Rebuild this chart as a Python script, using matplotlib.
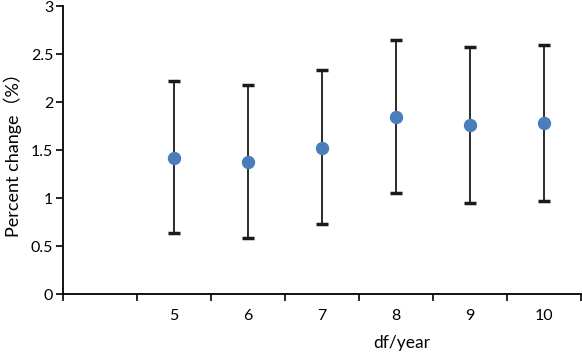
import matplotlib
matplotlib.use("Agg")
import matplotlib.pyplot as plt
import numpy as np

categories = ["", "5", "6", "7", "8", "9", "10"]
means = [np.nan, 1.42, 1.38, 1.52, 1.85, 1.76, 1.78]
upper = [np.nan, 2.22, 2.18, 2.33, 2.65, 2.57, 2.59]
lower = [np.nan, 0.64, 0.59, 0.73, 1.055, 0.945, 0.975]

plt.rcParams['font.family'] = ['Lato', 'Noto Sans CJK SC', 'DejaVu Sans']

fig = plt.figure(figsize=(5.82, 3.57), dpi=100)
ax = fig.add_axes([0.108, 0.176, 0.890, 0.807])

x = np.arange(len(categories))
m = np.array(means)
yerr = np.vstack([m - np.array(lower), np.array(upper) - m])
ax.errorbar(x, m, yerr=yerr, fmt='o', color='#4a7ebb', markersize=8.6,
            ecolor='#1a1a1a', elinewidth=1.3, capsize=4.5, capthick=2.5, zorder=3)

ax.set_xlim(-0.5, len(categories) - 0.5)
ax.set_ylim(0, 3)
ax.set_yticks([0, 0.5, 1, 1.5, 2, 2.5, 3])
ax.set_yticklabels(["0", "0.5", "1", "1.5", "2", "2.5", "3"])

ax.set_xticks(np.arange(len(categories) + 1) - 0.5)
ax.set_xticklabels([])
ax.set_xticks(x, minor=True)
ax.set_xticklabels(categories, minor=True)
ax.tick_params(axis='x', which='minor', length=0, pad=11, labelsize=11.5)
ax.tick_params(axis='x', which='major', direction='out', length=5, width=1.2, color='black')
ax.tick_params(axis='y', direction='out', length=5, width=1.2, labelsize=11.5, pad=2)

for s in ['top', 'right']:
    ax.spines[s].set_visible(False)
for s in ['left', 'bottom']:
    ax.spines[s].set_linewidth(1.3)

ax.set_ylabel("Percent change（%）", fontsize=13)
ax.yaxis.set_label_coords(-0.078, 0.5)
ax.set_xlabel("df/year", fontsize=12.5)
ax.xaxis.set_label_coords(0.654, -0.14)

fig.savefig("out.png", dpi=100)
